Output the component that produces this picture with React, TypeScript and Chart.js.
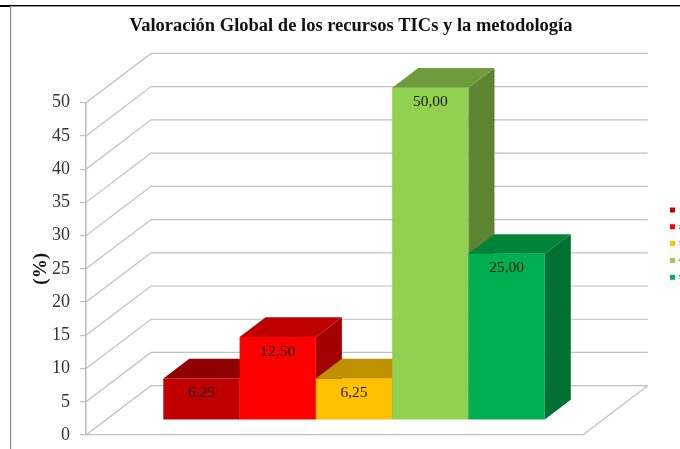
import React, { useEffect, useRef } from "react";
import { Chart, registerables } from "chart.js";

Chart.register(...registerables);

const chartTitle = "Valoración Global de los recursos TICs y la metodología";
const axisTitle = "(%)";
const categories = [""];
const seriesNames = ["1", "2", "3", "4", "5"];
const seriesValues = [6.25, 12.5, 6.25, 50, 25];
const frontColors = ["#C00000", "#FF0000", "#FFC000", "#92D050", "#00B050"];
const topColors = ["#900000", "#BF0000", "#BF9000", "#6E9C3C", "#00843C"];
const sideColors = ["#7A0000", "#A30000", "#A37A00", "#5D8433", "#007033"];

const SERIF = "'Liberation Serif', serif";
const WALL_DX = 65;
const WALL_DY = 49.3;
const BAR_OFFSET_X = 19.7;
const BAR_OFFSET_Y = -15;
const BAR_DX = 26;
const BAR_DY = 19.7;

function poly(ctx: CanvasRenderingContext2D, pts: number[][], color: string) {
  ctx.fillStyle = color;
  ctx.beginPath();
  pts.forEach((p, i) => (i ? ctx.lineTo(p[0], p[1]) : ctx.moveTo(p[0], p[1])));
  ctx.closePath();
  ctx.fill();
}

const box3d = {
  id: "box3d",
  beforeDraw(chart: any) {
    const ctx = chart.ctx;
    // reposition the title and legend
    chart.titleBlock.left = 0;
    chart.titleBlock.right = 702;
    const lg = chart.legend;
    lg.left = 660.2;
    lg.right = 680;
    lg.top = 196.7;
    lg.bottom = 300;
    // outer frame
    ctx.save();
    ctx.fillStyle = "#000";
    ctx.fillRect(0, 5, 680, 1.4);
    ctx.fillRect(0, 5, 10, 2);
    ctx.fillStyle = "#8C8C8C";
    ctx.fillRect(10, 6, 1.2, 443);
    ctx.restore();
  },
  beforeDatasetsDraw(chart: any) {
    const { ctx, chartArea, scales } = chart;
    ctx.save();
    ctx.strokeStyle = "#BFBFBF";
    ctx.lineWidth = 1.2;
    const L = chartArea.left;
    const R = chartArea.right;
    ctx.beginPath();
    scales.y.ticks.forEach((t: any) => {
      const y = scales.y.getPixelForValue(t.value);
      ctx.moveTo(L, y);
      ctx.lineTo(L + WALL_DX, y - WALL_DY);
      ctx.lineTo(R + WALL_DX, y - WALL_DY);
    });
    ctx.moveTo(R, chartArea.bottom);
    ctx.lineTo(R + WALL_DX, chartArea.bottom - WALL_DY);
    ctx.stroke();
    ctx.restore();
  },
  afterDatasetsDraw(chart: any) {
    const ctx = chart.ctx;
    const metas = chart.data.datasets.map((_: any, i: number) => chart.getDatasetMeta(i));
    ctx.save();
    ctx.translate(BAR_OFFSET_X, BAR_OFFSET_Y);
    // painter's order: left to right, each bar hides the previous one's side
    metas.forEach((meta: any, i: number) => {
      const el = meta.data[0];
      const { x, y, base, width } = el.getProps(["x", "y", "base", "width"], true);
      const l = x - width / 2;
      const r = x + width / 2;
      el.draw(ctx);
      poly(ctx, [[l, y], [r, y], [r + BAR_DX, y - BAR_DY], [l + BAR_DX, y - BAR_DY]], topColors[i]);
      poly(ctx, [[r, y], [r + BAR_DX, y - BAR_DY], [r + BAR_DX, base - BAR_DY], [r, base]], sideColors[i]);
    });
    ctx.restore();
    ctx.save();
    ctx.font = `15.5px ${SERIF}`;
    ctx.fillStyle = "#1A1A1A";
    ctx.textAlign = "center";
    ctx.textBaseline = "middle";
    chart.data.datasets.forEach((d: any, i: number) => {
      const el = metas[i].data[0];
      const text = Number(d.data[0]).toFixed(2).replace(".", ",");
      ctx.fillText(text, el.x + BAR_OFFSET_X, el.y + BAR_OFFSET_Y + 14.5);
    });
    ctx.restore();
  },
};

const hideNative = {
  id: "hideNative",
  beforeDatasetDraw() {
    return false;
  },
};

export default function App() {
  const ref = useRef<HTMLCanvasElement>(null);
  useEffect(() => {
    const chart = new Chart(ref.current as HTMLCanvasElement, {
      type: "bar",
      data: {
        labels: categories,
        datasets: seriesNames.map((name, i) => ({
          label: name,
          data: [seriesValues[i]],
          backgroundColor: frontColors[i],
          borderWidth: 0,
          categoryPercentage: 0.768,
          barPercentage: 1,
        })),
      },
      options: {
        responsive: false,
        animation: false,
        layout: { padding: { left: 0, right: 96.3, top: 0, bottom: 14 } },
        plugins: {
          tooltip: { enabled: false },
          title: {
            display: true,
            text: chartTitle,
            color: "#111",
            font: { family: SERIF, size: 18.5, weight: "bold", lineHeight: 1.2 },
            padding: { top: 15.5, bottom: 65 },
          },
          legend: {
            position: "right",
            align: "start",
            maxWidth: 1,
            labels: {
              boxWidth: 5,
              boxHeight: 5,
              padding: 9.8,
              color: "#333",
              font: { family: SERIF, size: 7, lineHeight: 1.2 },
            },
          },
        },
        scales: {
          x: {
            grid: { display: true, drawOnChartArea: false, drawTicks: false },
            border: { color: "#BFBFBF", width: 1.2 },
            ticks: { display: false },
            afterFit(s: any) { s.height = 0; },
          },
          y: {
            min: 0,
            max: 50,
            ticks: {
              stepSize: 5,
              padding: 10,
              color: "#333",
              font: { family: SERIF, size: 18, lineHeight: 0.1 },
            },
            grid: { drawOnChartArea: false, drawTicks: true, tickLength: 6, color: "#BFBFBF", lineWidth: 1.2 },
            border: { color: "#BFBFBF", width: 1.6 },
            title: {
              display: true,
              text: axisTitle,
              color: "#111",
              font: { family: SERIF, size: 19, weight: "bold", lineHeight: 1.2 },
              padding: { top: 30, bottom: 0 },
            },
            afterFit(s: any) { s.width = 86; },
          },
        },
      } as any,
      plugins: [box3d, hideNative],
    });
    return () => chart.destroy();
  }, []);
  return (
    <div style={{ position: "absolute", left: 0, top: 0, width: 680, height: 449 }}>
      <canvas ref={ref} width={680} height={449} style={{ display: "block" }} />
    </div>
  );
}
